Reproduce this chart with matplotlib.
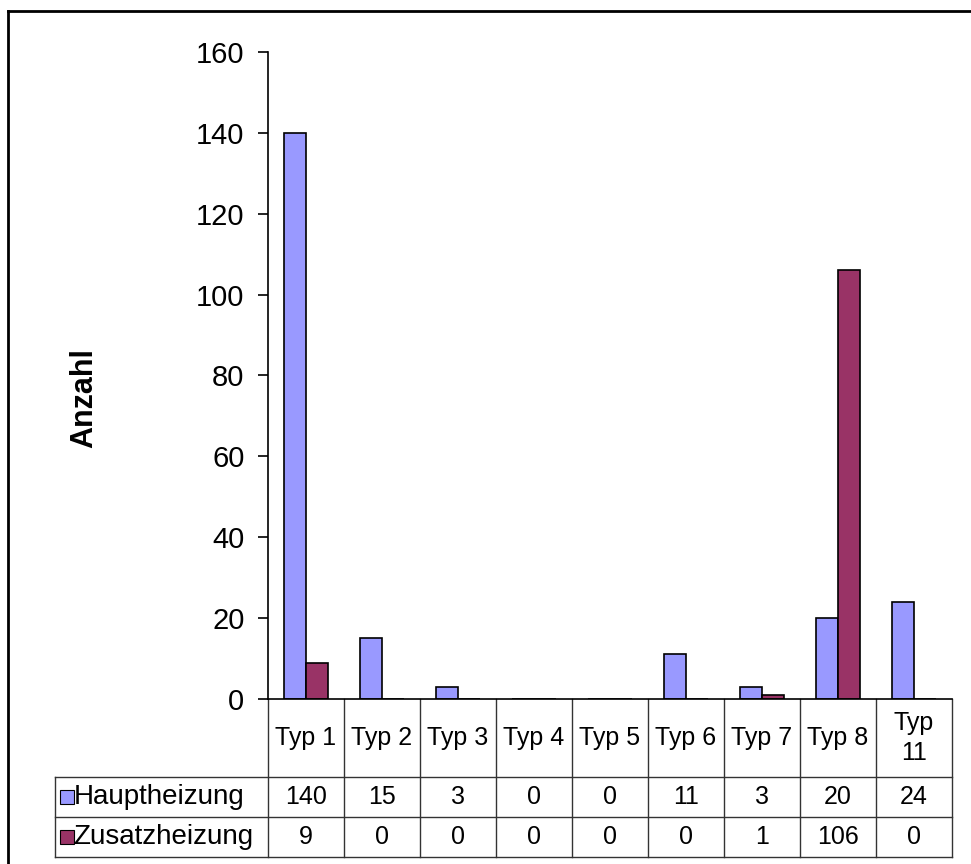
import numpy as np
import matplotlib.pyplot as plt
import matplotlib.transforms as mtransforms
from matplotlib.lines import Line2D

plt.rcParams['font.family'] = ['Liberation Sans', 'DejaVu Sans']

# Daten
kategorien = ["Typ 1", "Typ 2", "Typ 3", "Typ 4", "Typ 5", "Typ 6", "Typ 7", "Typ 8", "Typ\n11"]
hauptheizung = [140, 15, 3, 0, 0, 11, 3, 20, 24]
zusatzheizung = [9, 0, 0, 0, 0, 0, 1, 106, 0]
reihen = ["Hauptheizung", "Zusatzheizung"]
farben = ["#9999FF", "#993366"]
y_ticks = [0, 20, 40, 60, 80, 100, 120, 140, 160]

fig = plt.figure(figsize=(9.71, 8.64), dpi=100)
ax = fig.add_axes([0.276, 0.191, 0.7044, 0.7488])

x = np.arange(len(kategorien))
b = 0.29
ax.bar(x - b/2, hauptheizung, b, color=farben[0], edgecolor="black", linewidth=1.2)
ax.bar(x + b/2, zusatzheizung, b, color=farben[1], edgecolor="black", linewidth=1.2)

ax.set_xlim(-0.5, len(kategorien) - 0.5)
ax.set_ylim(0, 160)
ax.set_yticks(y_ticks)
ax.tick_params(axis='y', labelsize=21, length=7, width=1.2, pad=10, direction='out')
ax.set_xticks([])
for s in ["top", "right"]:
    ax.spines[s].set_visible(False)
ax.spines["left"].set_linewidth(1.2)
ax.spines["bottom"].set_linewidth(1.2)

ax.text(-0.269, 0.465, "Anzahl", transform=ax.transAxes, rotation=90,
        fontsize=22, fontweight='bold', ha='center', va='center')

# Datentabelle unter der Achse
trans = mtransforms.blended_transform_factory(ax.transData, ax.transAxes)
y_kopf = -0.1206
y_r1 = -0.1824
y_r2 = -0.2442
x_links = -3.303
x_rechts = len(kategorien) - 0.5
lw = 1.0
lc = "#333333"

def linie(xs, ys):
    ax.add_line(Line2D(xs, ys, transform=trans, color=lc, lw=lw, clip_on=False))

for yy in [y_kopf, y_r1, y_r2]:
    linie([x_links, x_rechts], [yy, yy])
linie([x_links, x_links], [y_kopf, y_r2])
for i in range(len(kategorien) + 1):
    linie([i - 0.5, i - 0.5], [0, y_r2])

for i, k in enumerate(kategorien):
    ax.text(i, y_kopf / 2, k, transform=trans, ha='center', va='center',
            fontsize=18, linespacing=1.3)

zeilen_y = [(y_kopf + y_r1) / 2, (y_r1 + y_r2) / 2]
for werte, yy, name, f in zip([hauptheizung, zusatzheizung], zeilen_y, reihen, farben):
    for i, v in enumerate(werte):
        ax.text(i, yy, str(v), transform=trans, ha='center', va='center', fontsize=18)
    ax.plot([-3.14], [yy], marker='s', markersize=10, markerfacecolor=f,
            markeredgecolor='black', markeredgewidth=0.8, transform=trans, clip_on=False)
    ax.text(-3.06, yy, name, transform=trans, ha='left', va='center', fontsize=20)

# Rahmen (oben und links)
fig.add_artist(Line2D([8/971, 1], [1 - 11/864, 1 - 11/864], color='black', lw=2, transform=fig.transFigure))
fig.add_artist(Line2D([8/971, 8/971], [0, 1 - 11/864], color='black', lw=2, transform=fig.transFigure))

fig.savefig("out.png", dpi=100)
